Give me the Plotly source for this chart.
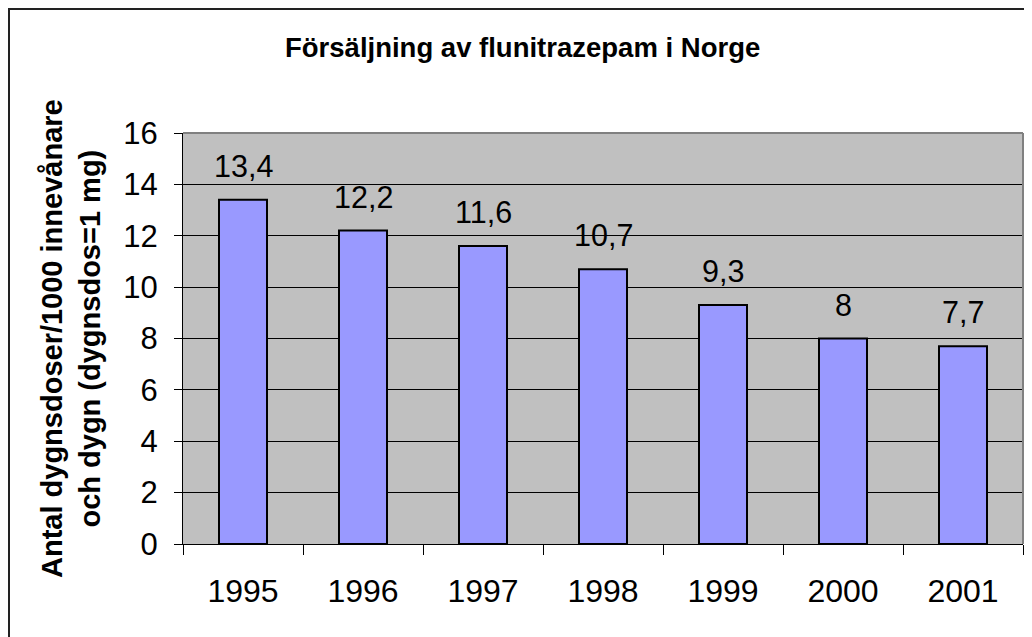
import plotly.graph_objects as go

years = ["1995", "1996", "1997", "1998", "1999", "2000", "2001"]
values = [13.4, 12.2, 11.6, 10.7, 9.3, 8.0, 7.7]
y_ticks = [0, 2, 4, 6, 8, 10, 12, 14, 16]

title_text = "Försäljning av flunitrazepam i Norge"
ytitle_text = "Antal dygnsdoser/1000 innevånare<br>och dygn (dygnsdos=1 mg)"

FONT = "Arial, 'Liberation Sans', sans-serif"

# The page has an 8px body margin; positions below are screen pixels of the
# target picture, converted to figure coordinates by subtracting OFF.
OFF = 8
W, H = 1032, 637
PL, PR, PT, PB = 183, 1023, 133, 544          # plot area in screen px
L, T = PL - OFF, PT - OFF
R = W - (PR - OFF)
B = H - (PB - OFF)
pw, ph = PR - PL, PB - PT


def px_x(p):
    return (p - PL) / pw


def px_y(p):
    return (PB - p) / ph


def fmt(v):
    return ("%g" % v).replace(".", ",")


fig = go.Figure()
fig.add_trace(go.Bar(
    x=years, y=values, width=0.4,
    marker=dict(color="#9999FF", line=dict(color="#000000", width=2)),
    hoverinfo="skip",
))

annotations = []
for i, v in enumerate(values):
    annotations.append(dict(
        x=i, y=v, xref="x", yref="y", text=fmt(v), showarrow=False,
        yanchor="middle", xanchor="center", yshift=34,
        font=dict(family=FONT, size=30.5, color="#000"),
    ))

annotations.append(dict(
    x=px_x(71), y=px_y(339), xref="paper", yref="paper", text="<b>" + ytitle_text + "</b>",
    showarrow=False, textangle=-90, xanchor="center", yanchor="middle",
    font=dict(family=FONT, size=29, color="#000"),
))
annotations.append(dict(
    x=px_x(522), y=px_y(48), xref="paper", yref="paper", text="<b>" + title_text + "</b>",
    showarrow=False, xanchor="center", yanchor="middle",
    font=dict(family=FONT, size=27.5, color="#000"),
))

shapes = [
    dict(type="rect", xref="paper", yref="paper",
         x0=px_x(9), x1=px_x(1060), y0=px_y(660), y1=px_y(9),
         line=dict(color="#222222", width=2), fillcolor="rgba(0,0,0,0)", layer="below"),
    dict(type="line", xref="paper", yref="paper", x0=0, x1=1, y0=1, y1=1,
         line=dict(color="#808080", width=2)),
    dict(type="line", xref="paper", yref="paper", x0=1, x1=1, y0=0, y1=1,
         line=dict(color="#808080", width=2)),
]

fig.update_layout(
    width=W, height=H,
    margin=dict(l=L, r=R, t=T, b=B, autoexpand=False),
    paper_bgcolor="#FFFFFF",
    plot_bgcolor="#C0C0C0",
    showlegend=False,
    bargap=0.6,
    annotations=annotations,
    shapes=shapes,
    font=dict(family=FONT, color="#000"),
)

fig.update_xaxes(
    type="category",
    range=[-0.5, len(years) - 0.5],
    tickson="boundaries",
    ticks="outside", ticklen=10, tickcolor="#000", tickwidth=1,
    showline=True, linecolor="#000", linewidth=1,
    showgrid=False, automargin=False, tickangle=0,
    tickfont=dict(family=FONT, size=32, color="#000"),
    ticklabelstandoff=19,
)
fig.update_yaxes(
    range=[0, 16], tickvals=y_ticks, ticktext=[str(t) for t in y_ticks],
    ticks="outside", ticklen=8, tickcolor="#000", tickwidth=1,
    showline=True, linecolor="#000", linewidth=1,
    showgrid=True, gridcolor="#000", gridwidth=1,
    zeroline=True, zerolinecolor="#000", zerolinewidth=1, automargin=False,
    tickfont=dict(family=FONT, size=31, color="#000"),
    ticklabelstandoff=10,
)

fig.write_html("out.html")
